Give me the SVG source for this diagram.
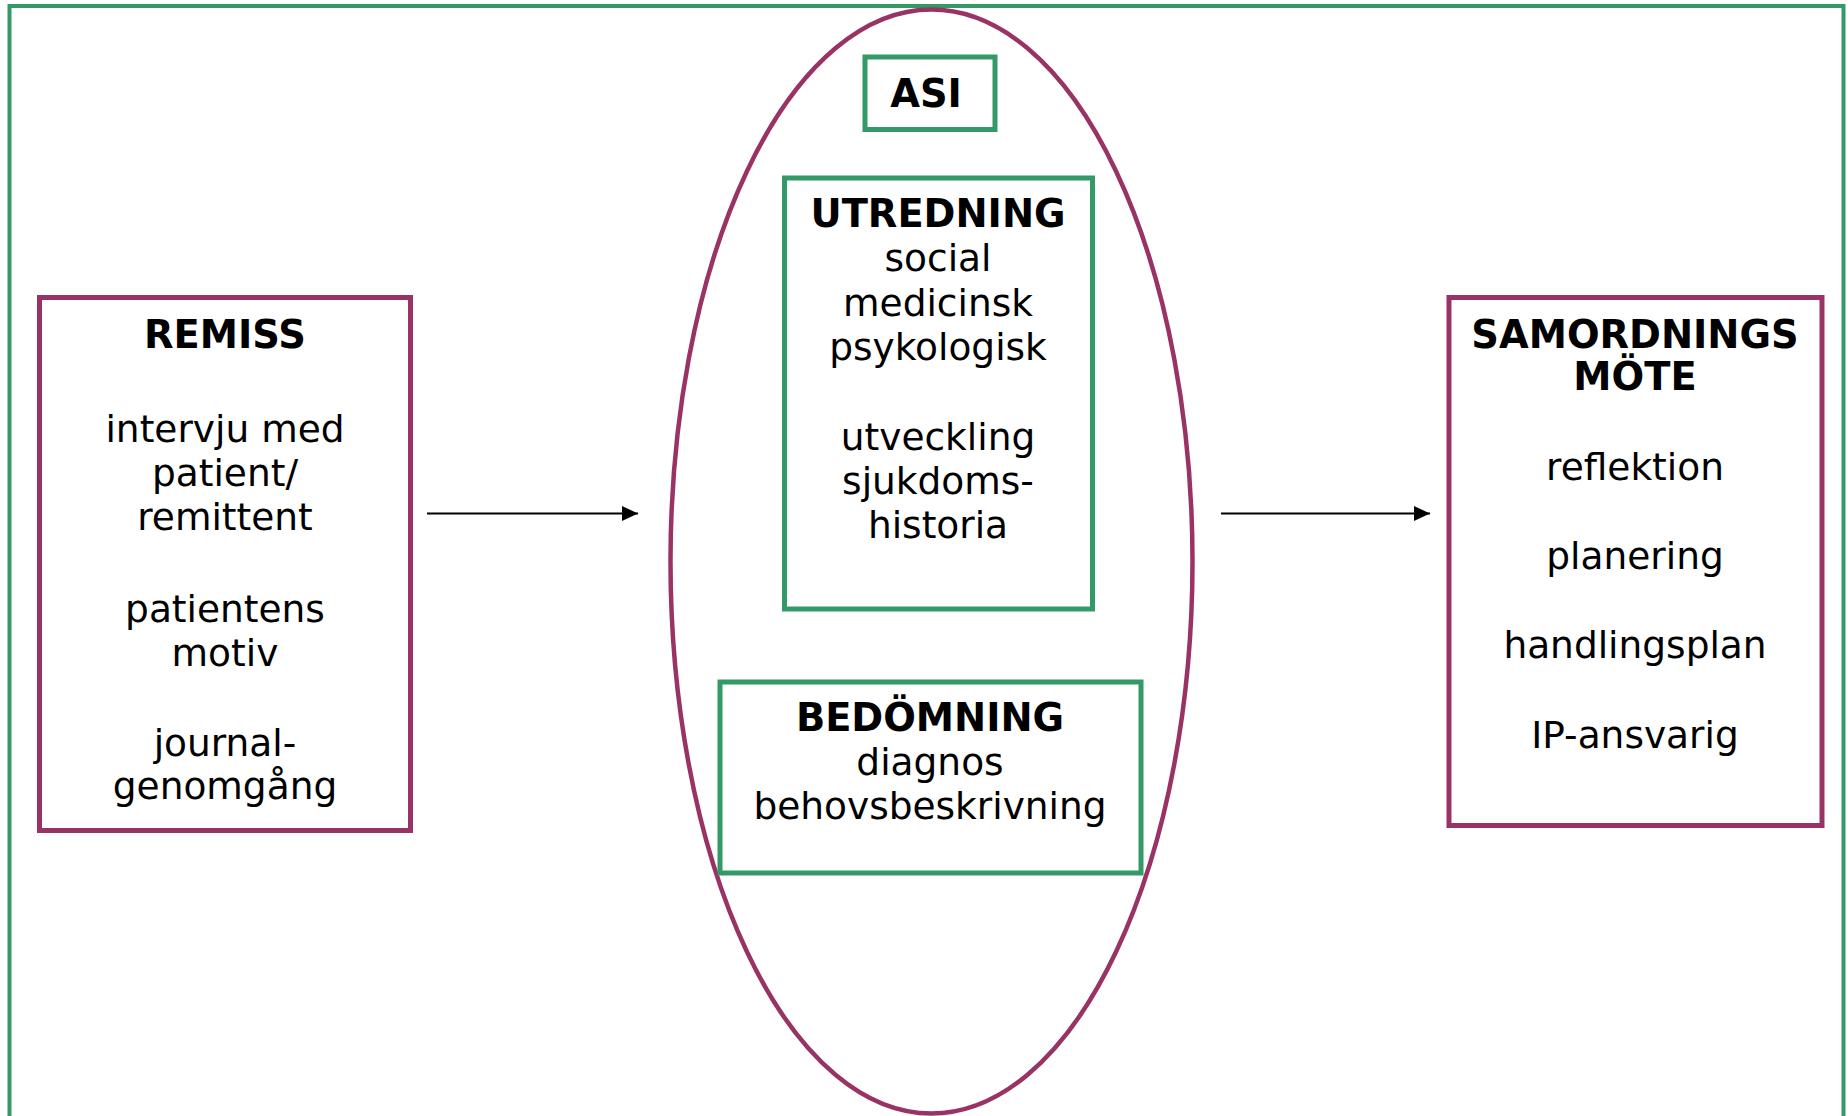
<svg xmlns="http://www.w3.org/2000/svg" width="1848" height="1116" viewBox="0 0 1848 1116">
<defs>
<style>
.t{font-family:"DejaVu Sans","Verdana",sans-serif;font-size:37.5px;fill:#000;text-anchor:middle}
.b{font-weight:bold;font-size:38.4px}
.pur{fill:none;stroke:#993366;stroke-width:5}
.grn{fill:none;stroke:#339966;stroke-width:5}
.con{stroke:#000;stroke-width:2;fill:none}
</style>
<marker id="ah" markerWidth="16" markerHeight="16" refX="16" refY="7.5" orient="auto" markerUnits="userSpaceOnUse">
<path d="M0,0 L16,7.5 L0,15 Z" fill="#000"/>
</marker>
</defs>
<rect width="1848" height="1116" fill="#fff"/>
<rect id="frame" x="9.5" y="6" width="1834" height="1130" fill="none" stroke="#339966" stroke-width="4"/>
<g id="ellipse-group">
<ellipse cx="931.5" cy="561.5" rx="261" ry="552" fill="none" stroke="#993366" stroke-width="4.5"/>
</g>
<g id="remiss">
<rect class="pur" x="39.5" y="297.5" width="371" height="533"/>
<text class="t b" x="225" y="348">REMISS</text>
<text class="t" x="225" y="442">intervju med</text>
<text class="t" x="225" y="485.5">patient/</text>
<text class="t" x="225" y="529.5">remittent</text>
<text class="t" x="225" y="621.5">patientens</text>
<text class="t" x="225" y="666">motiv</text>
<text class="t" x="225" y="756">journal-</text>
<text class="t" x="225" y="799">genomgång</text>
</g>
<g id="asi">
<rect class="grn" x="865" y="57" width="130" height="72.5"/>
<text class="t b" x="926" y="107">ASI</text>
</g>
<g id="utredning">
<rect class="grn" x="784.5" y="178" width="308" height="431"/>
<text class="t b" x="938" y="226.5">UTREDNING</text>
<text class="t" x="938" y="271">social</text>
<text class="t" x="938" y="315.5">medicinsk</text>
<text class="t" x="938" y="359.5">psykologisk</text>
<text class="t" x="938" y="449.5">utveckling</text>
<text class="t" x="938" y="493.5">sjukdoms-</text>
<text class="t" x="938" y="538">historia</text>
</g>
<g id="bedomning">
<rect class="grn" x="720" y="682" width="421" height="191"/>
<text class="t b" x="930" y="731">BEDÖMNING</text>
<text class="t" x="930" y="775">diagnos</text>
<text class="t" x="930" y="819">behovsbeskrivning</text>
</g>
<g id="samordning">
<rect class="pur" x="1449" y="297.5" width="373" height="528"/>
<text class="t b" x="1635" y="348">SAMORDNINGS</text>
<text class="t b" x="1635" y="390">MÖTE</text>
<text class="t" x="1635" y="480">reflektion</text>
<text class="t" x="1635" y="568.5">planering</text>
<text class="t" x="1635" y="658">handlingsplan</text>
<text class="t" x="1635" y="747.5">IP-ansvarig</text>
</g>
<g id="connectors">
<line class="con" x1="427" y1="513.5" x2="638" y2="513.5" marker-end="url(#ah)"/>
<line class="con" x1="1221" y1="513.5" x2="1430" y2="513.5" marker-end="url(#ah)"/>
</g>
</svg>
